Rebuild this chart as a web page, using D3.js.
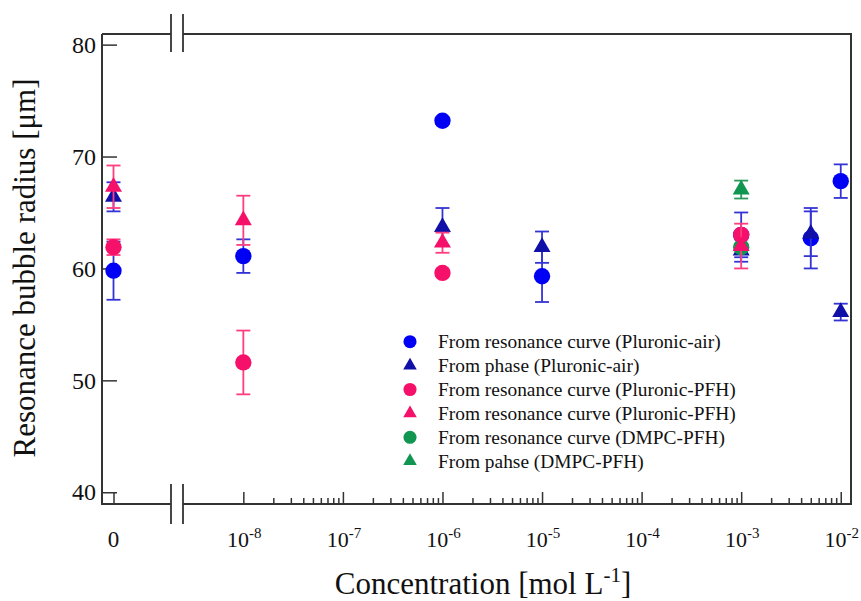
<!DOCTYPE html>
<html>
  <head>
    <meta charset="utf-8">
    <title>Resonance bubble radius</title>
    <script type="text/javascript" src="https://d3js.org/d3.v7.min.js"></script>
    <style>
      body { margin: 0; background: #fff; }
    </style>
  </head>

  <body>
    <script>

    // concentrations [mol/L]; 0 is drawn in the separate segment left of the axis break
    var concentrations = [0, 1e-8, 1e-6, 1e-5, 1e-3, 5e-3, 1e-2];

    var airResValues   = [59.8, 61.1, 73.2, 59.3, 63.0, 62.7, 67.8];
    var airResErrors   = [2.6, 1.5, 0.3, 2.3, 2.0, 2.7, 1.5];
    var airPhaseValues = [66.4, null, 63.7, 61.9, 61.6, 63.1, 56.1];
    var airPhaseErrors = [1.3, null, 1.7, 1.4, 1.0, 2.0, 0.75];
    var pfhResValues   = [61.9, 51.6, 59.6, null, 63.0, null, null];
    var pfhResErrors   = [0.7, 2.85, 0.3, null, 0.3, null, null];
    var pfhTriValues   = [67.3, 64.3, 62.3, null, 62.0, null, null];
    var pfhTriErrors   = [1.9, 2.2, 0.9, null, 2.0, null, null];
    var dmpcResValues  = [null, null, null, null, 61.9, null, null];
    var dmpcResErrors  = [null, null, null, null, 0.3, null, null];
    var dmpcPhaseValues = [null, null, null, null, 67.05, null, null];
    var dmpcPhaseErrors = [null, null, null, null, 0.8, null, null];

    var legendLabels = [
      "From resonance curve (Pluronic-air)",
      "From phase (Pluronic-air)",
      "From resonance curve (Pluronic-PFH)",
      "From resonance curve (Pluronic-PFH)",
      "From resonance curve (DMPC-PFH)",
      "From pahse (DMPC-PFH)"
    ];

    var yTicks = [40, 50, 60, 70, 80];
    var xMajorTicks = [1e-8, 1e-7, 1e-6, 1e-5, 1e-4, 1e-3, 1e-2];
    var xMajorExp = ["-8", "-7", "-6", "-5", "-4", "-3", "-2"];

    var width = 861, height = 601;
    var plotL = 102, plotR = 851, plotT = 34, plotB = 504;
    var breakL = 171, breakR = 183;
    var font = "'Liberation Serif', 'Times New Roman', serif";
    var frameColor = "#333";

    var blue = "#0000f5", blueDark = "#1010a8", blueBar = "#3434d4";
    var pink = "#f5106a", pinkBar = "#ff3d80";
    var green = "#109650", greenBar = "#2a9a5a";

    // series in drawing order (legend index kept separately)
    var series = [
      {values: airResValues, errors: airResErrors, shape: d3.symbolCircle, fill: blue, bar: blueBar, legend: 0},
      {values: airPhaseValues, errors: airPhaseErrors, shape: d3.symbolTriangle, fill: blueDark, bar: blueBar, legend: 1},
      {values: dmpcResValues, errors: dmpcResErrors, shape: d3.symbolCircle, fill: green, bar: greenBar, legend: 4},
      {values: dmpcPhaseValues, errors: dmpcPhaseErrors, shape: d3.symbolTriangle, fill: green, bar: greenBar, legend: 5},
      {values: pfhResValues, errors: pfhResErrors, shape: d3.symbolCircle, fill: pink, bar: pinkBar, legend: 2},
      {values: pfhTriValues, errors: pfhTriErrors, shape: d3.symbolTriangle, fill: pink, bar: pinkBar, legend: 3}
    ];

    var svg = d3.select("body").append("svg")
                .attr("width", width)
                .attr("height", height);

    var y = d3.scaleLinear().domain([38.95, 80.95]).range([plotB, plotT]);
    var xLog = d3.scaleLog()
                 .domain([Math.pow(10, -8.606), Math.pow(10, -1.897)])
                 .range([breakR, plotR]);
    var xZero = d3.scaleLinear().domain([-1, 5]).range([plotL, breakL]);

    function xPos(c) { return c === 0 ? xZero(0) : xLog(c); }

    // minor log ticks
    var xMinorTicks = [];
    for (var e = -8; e < -2; e++) {
      for (var m = 2; m <= 9; m++) xMinorTicks.push(m * Math.pow(10, e));
    }

    function styleAxis(g) {
      g.select(".domain").remove();
      g.selectAll("line").attr("stroke", frameColor).attr("stroke-width", 1.5);
      g.selectAll("text").attr("font-family", font).attr("fill", "#111");
    }

    svg.append("g")
       .attr("transform", "translate(0," + plotB + ")")
       .call(d3.axisBottom(xLog).tickValues(xMinorTicks).tickSizeInner(-6).tickSizeOuter(0).tickFormat(""))
       .call(styleAxis);

    svg.append("g")
       .attr("transform", "translate(0," + plotB + ")")
       .call(d3.axisBottom(xLog).tickValues(xMajorTicks).tickSizeInner(-12).tickSizeOuter(0).tickFormat(""))
       .call(styleAxis);

    svg.append("g")
       .attr("transform", "translate(0," + plotB + ")")
       .call(d3.axisBottom(xZero).tickValues([0]).tickSizeInner(-12).tickSizeOuter(0).tickFormat(""))
       .call(styleAxis);

    svg.append("g")
       .attr("transform", "translate(" + plotL + ",0)")
       .call(d3.axisLeft(y).tickValues(yTicks).tickSizeInner(-15).tickSizeOuter(0).tickPadding(6))
       .call(styleAxis)
       .selectAll("text").attr("font-size", 24);

    // x tick labels with superscripts
    var xLabels = svg.append("g").attr("font-family", font).attr("font-size", 22).attr("fill", "#111");
    xLabels.append("text")
           .attr("x", xZero(0)).attr("y", 547)
           .attr("text-anchor", "middle")
           .attr("font-size", 23)
           .text("0");
    var lab = xLabels.selectAll("text.major")
                     .data(xMajorTicks)
                     .enter().append("text")
                     .attr("class", "major")
                     .attr("x", function(d) { return xLog(d) + 1; })
                     .attr("y", 547)
                     .attr("text-anchor", "middle");
    lab.append("tspan").text("10");
    lab.append("tspan").attr("dy", -9).attr("font-size", 15)
       .text(function(d, i) { return xMajorExp[i]; });

    // frame with axis breaks
    svg.append("path")
       .attr("d", "M" + plotL + "," + plotT + "H" + breakL + "M" + breakR + "," + plotT + "H" + plotR +
                  "V" + plotB + "H" + breakR + "M" + breakL + "," + plotB + "H" + plotL + "V" + plotT)
       .attr("fill", "none")
       .attr("stroke", frameColor)
       .attr("stroke-width", 2);
    svg.append("path")
       .attr("d", "M" + breakL + "," + (plotT - 20) + "V" + (plotT + 18) +
                  "M" + breakR + "," + (plotT - 20) + "V" + (plotT + 18) +
                  "M" + breakL + "," + (plotB - 20) + "V" + (plotB + 20) +
                  "M" + breakR + "," + (plotB - 20) + "V" + (plotB + 20))
       .attr("stroke", frameColor)
       .attr("stroke-width", 1.8);

    // points with error bars
    series.forEach(function(s) {
      var pts = concentrations.map(function(c, i) {
        return {c: c, v: s.values[i], e: s.errors[i]};
      }).filter(function(d) { return d.v !== null; });

      var g = svg.append("g");
      var bars = g.selectAll("g.bar").data(pts).enter().append("g")
                  .attr("stroke", s.bar).attr("stroke-width", 1.8);
      bars.append("line")
          .attr("x1", function(d) { return xPos(d.c); })
          .attr("x2", function(d) { return xPos(d.c); })
          .attr("y1", function(d) { return y(d.v - d.e); })
          .attr("y2", function(d) { return y(d.v + d.e); });
      [-1, 1].forEach(function(sign) {
        bars.append("line")
            .attr("x1", function(d) { return xPos(d.c) - 7; })
            .attr("x2", function(d) { return xPos(d.c) + 7; })
            .attr("y1", function(d) { return y(d.v + sign * d.e); })
            .attr("y2", function(d) { return y(d.v + sign * d.e); });
      });

      g.selectAll("path.pt").data(pts).enter().append("path")
       .attr("d", d3.symbol().type(s.shape).size(s.shape === d3.symbolCircle ? 210 : 125))
       .attr("transform", function(d) { return "translate(" + xPos(d.c) + "," + y(d.v) + ")"; })
       .attr("fill", s.fill);
    });

    // legend
    var legendOrder = series.slice().sort(function(a, b) { return a.legend - b.legend; });
    var leg = svg.append("g").attr("font-family", font).attr("font-size", 19.4).attr("fill", "#111");
    var rows = leg.selectAll("g").data(legendOrder).enter().append("g")
                  .attr("transform", function(d, i) { return "translate(410," + (341.7 + i * 23.9) + ")"; });
    rows.append("path")
        .attr("d", function(d) { return d3.symbol().type(d.shape).size(d.shape === d3.symbolCircle ? 135 : 80)(); })
        .attr("fill", function(d) { return d.fill; });
    rows.append("text")
        .attr("x", 28).attr("dy", "0.33em")
        .text(function(d) { return legendLabels[d.legend]; });

    // axis titles
    svg.append("text")
       .attr("transform", "translate(35,268) rotate(-90)")
       .attr("text-anchor", "middle")
       .attr("font-family", font).attr("font-size", 31).attr("fill", "#111")
       .text("Resonance bubble radius [\u03bcm]");

    var xt = svg.append("text")
                .attr("x", 483).attr("y", 594)
                .attr("text-anchor", "middle")
                .attr("font-family", font).attr("font-size", 31).attr("fill", "#111");
    xt.append("tspan").text("Concentration [mol L");
    xt.append("tspan").attr("dy", -12).attr("font-size", 21).text("-1");
    xt.append("tspan").attr("dy", 12).text("]");

  </script>
  </body>
</html>
